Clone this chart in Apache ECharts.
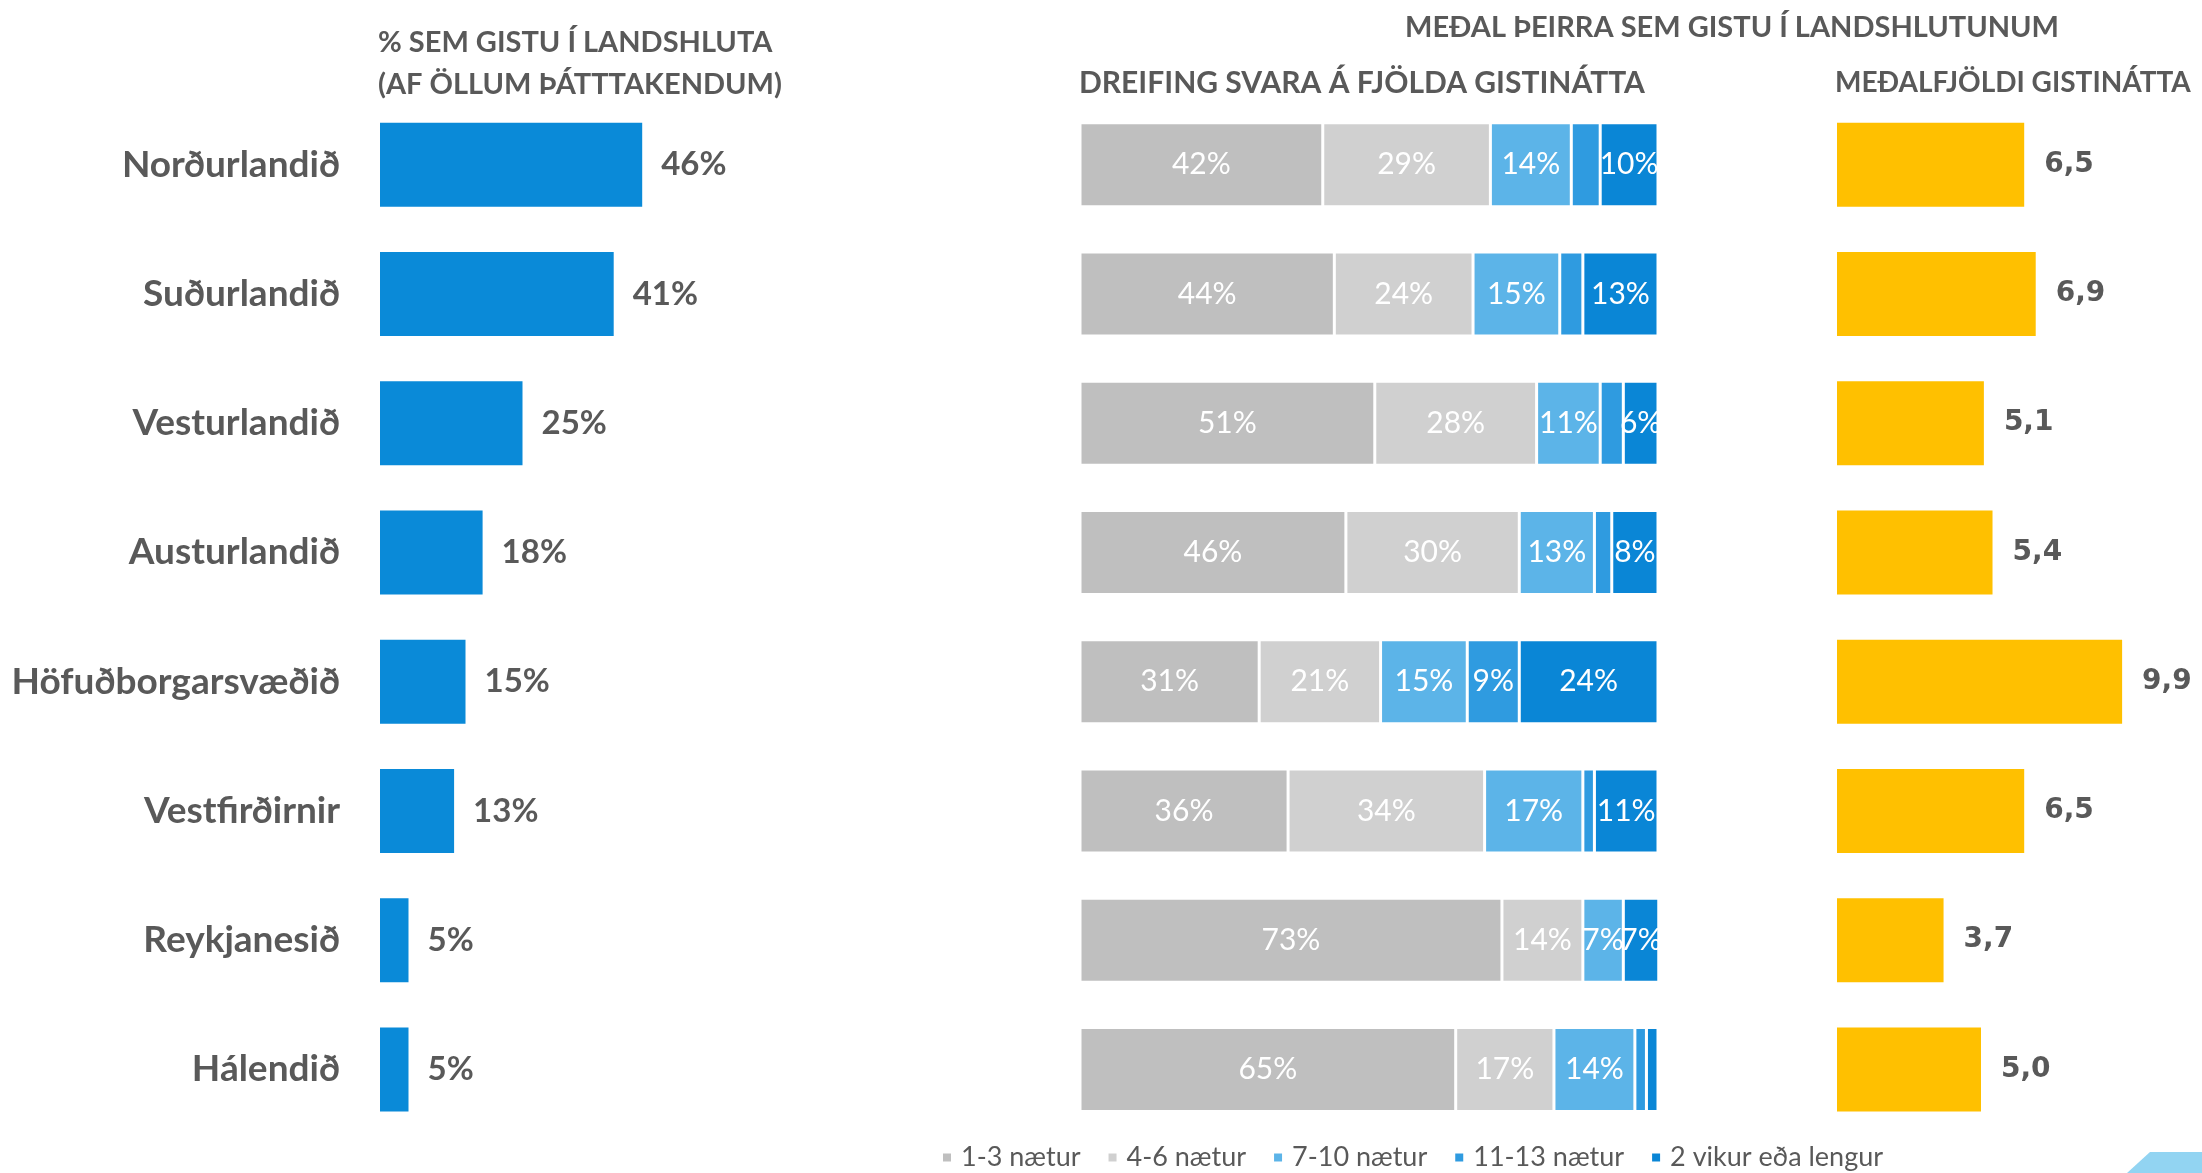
<!DOCTYPE html>
<html>
<head>
<meta charset="utf-8">
<script src="https://cdn.jsdelivr.net/npm/echarts@6/dist/echarts.min.js"></script>
<style>
  html, body { margin: 0; padding: 0; background: #fff; }
  #chart { width: 2202px; height: 1173px; }
</style>
</head>
<body>
<div id="chart"></div>
<script>
// landshlutar (röð ofan frá)
const regions = ['Norðurlandið', 'Suðurlandið', 'Vesturlandið', 'Austurlandið',
  'Höfuðborgarsvæðið', 'Vestfirðirnir', 'Reykjanesið', 'Hálendið']

// % sem gistu í landshluta
const sharePct = [46, 41, 25, 18, 15, 13, 5, 5]

// dreifing svara á fjölda gistinátta
const stackNames = ['1-3 nætur', '4-6 nætur', '7-10 nætur', '11-13 nætur', '2 vikur eða lengur']
const n1to3 = [42, 44, 51, 46, 31, 36, 73, 65]
const n4to6 = [29, 24, 28, 30, 21, 34, 14, 17]
const n7to10 = [14, 15, 11, 13, 15, 17, 7, 14]
const n11to13 = [5, 4, 4, 3, 9, 2, 0, 2]
const weeks2plus = [10, 13, 6, 8, 24, 11, 7, 2]

// meðalfjöldi gistinátta
const avgNights = [6.5, 6.9, 5.1, 5.4, 9.9, 6.5, 3.7, 5.0]

const stackValues = [n1to3, n4to6, n7to10, n11to13, weeks2plus]
const stackColors = ['#BFBFBF', '#D0D0D0', '#5CB4E8', '#2F9BE0', '#0A86D6']

const TXT = '#595959'
const FONT = 'Lato, "Open Sans", sans-serif'

const chart = echarts.init(document.getElementById('chart'))

const gridTop = 100
const gridH = 1034
const barW = 84

const catAxis = (gi, show) => ({
  type: 'category',
  gridIndex: gi,
  data: regions,
  inverse: true,
  axisLine: { show: false },
  axisTick: { show: false },
  axisLabel: show ? {
    show: true, color: TXT, fontFamily: FONT, fontWeight: 'bold', fontSize: 37, margin: 40
  } : { show: false }
})

const valAxis = (gi, max) => ({
  type: 'value', gridIndex: gi, min: 0, max,
  show: false, splitLine: { show: false }
})

const stackSeries = stackNames.map((name, i) => ({
  name,
  type: 'bar',
  stack: 'nights',
  xAxisIndex: 1,
  yAxisIndex: 1,
  barWidth: barW,
  data: stackValues[i],
  itemStyle: { color: stackColors[i], borderColor: '#fff', borderWidth: 1.5 },
  label: {
    show: true,
    position: 'inside',
    color: '#fff',
    fontFamily: FONT,
    fontSize: 30,
    // litlir bútar fá engan merkimiða
    formatter: p => (p.value >= 6 ? p.value + '%' : '')
  }
}))

chart.setOption({
  animation: false,
  grid: [
    { left: 380, top: gridTop, width: 570, height: gridH },
    { left: 1080, top: gridTop, width: 578, height: gridH },
    { left: 1837, top: gridTop, width: 288, height: gridH }
  ],
  xAxis: [valAxis(0, 100), valAxis(1, 100), valAxis(2, 10)],
  yAxis: [catAxis(0, true), catAxis(1, false), catAxis(2, false)],
  legend: {
    data: stackNames,
    left: 936,
    top: 1139,
    icon: 'rect',
    itemWidth: 10,
    itemHeight: 10,
    itemGap: 26,
    textStyle: { color: TXT, fontFamily: FONT, fontSize: 27, padding: [0, 0, 0, 4] }
  },
  series: [
    {
      name: 'hlutfall',
      type: 'bar',
      xAxisIndex: 0,
      yAxisIndex: 0,
      barWidth: barW,
      data: sharePct,
      itemStyle: { color: '#0A8AD8' },
      label: {
        show: true, position: 'right', distance: 19,
        color: TXT, fontFamily: FONT, fontWeight: 'bold', fontSize: 33,
        formatter: '{c}%'
      }
    },
    ...stackSeries,
    {
      name: 'meðalfjöldi',
      type: 'bar',
      xAxisIndex: 2,
      yAxisIndex: 2,
      barWidth: barW,
      data: avgNights,
      itemStyle: { color: '#FFC000' },
      label: {
        show: true, position: 'right', distance: 20,
        color: TXT, fontFamily: '"DejaVu Sans", sans-serif', fontWeight: 'bold', fontSize: 28,
        formatter: p => p.value.toFixed(1).replace('.', ',')
      }
    }
  ],
  graphic: [
    {
      type: 'text', x: 378, y: 43,
      style: {
        text: '% SEM GISTU Í LANDSHLUTA',
        fill: TXT, font: 'bold 29px ' + FONT, verticalAlign: 'middle'
      }
    },
    {
      type: 'text', x: 378, y: 85,
      style: {
        text: '(AF ÖLLUM ÞÁTTTAKENDUM)',
        fill: TXT, font: 'bold 29px ' + FONT, verticalAlign: 'middle'
      }
    },
    {
      type: 'text', x: 1732, y: 28,
      style: {
        text: 'MEÐAL ÞEIRRA SEM GISTU Í LANDSHLUTUNUM',
        fill: TXT, font: 'bold 29px ' + FONT, align: 'center', verticalAlign: 'middle'
      }
    },
    {
      type: 'text', x: 1079, y: 83,
      style: {
        text: 'DREIFING SVARA Á FJÖLDA GISTINÁTTA',
        fill: TXT, font: 'bold 30px ' + FONT, verticalAlign: 'middle'
      }
    },
    {
      type: 'text', x: 1835, y: 83,
      style: {
        text: 'MEÐALFJÖLDI GISTINÁTTA',
        fill: TXT, font: 'bold 28px ' + FONT, verticalAlign: 'middle'
      }
    },
    // skraut í horni glærunnar
    {
      type: 'polygon',
      shape: { points: [[2150, 1152], [2202, 1152], [2202, 1173], [2127, 1173]] },
      style: { fill: '#92D4F2' }
    }
  ]
})
</script>
</body>
</html>
